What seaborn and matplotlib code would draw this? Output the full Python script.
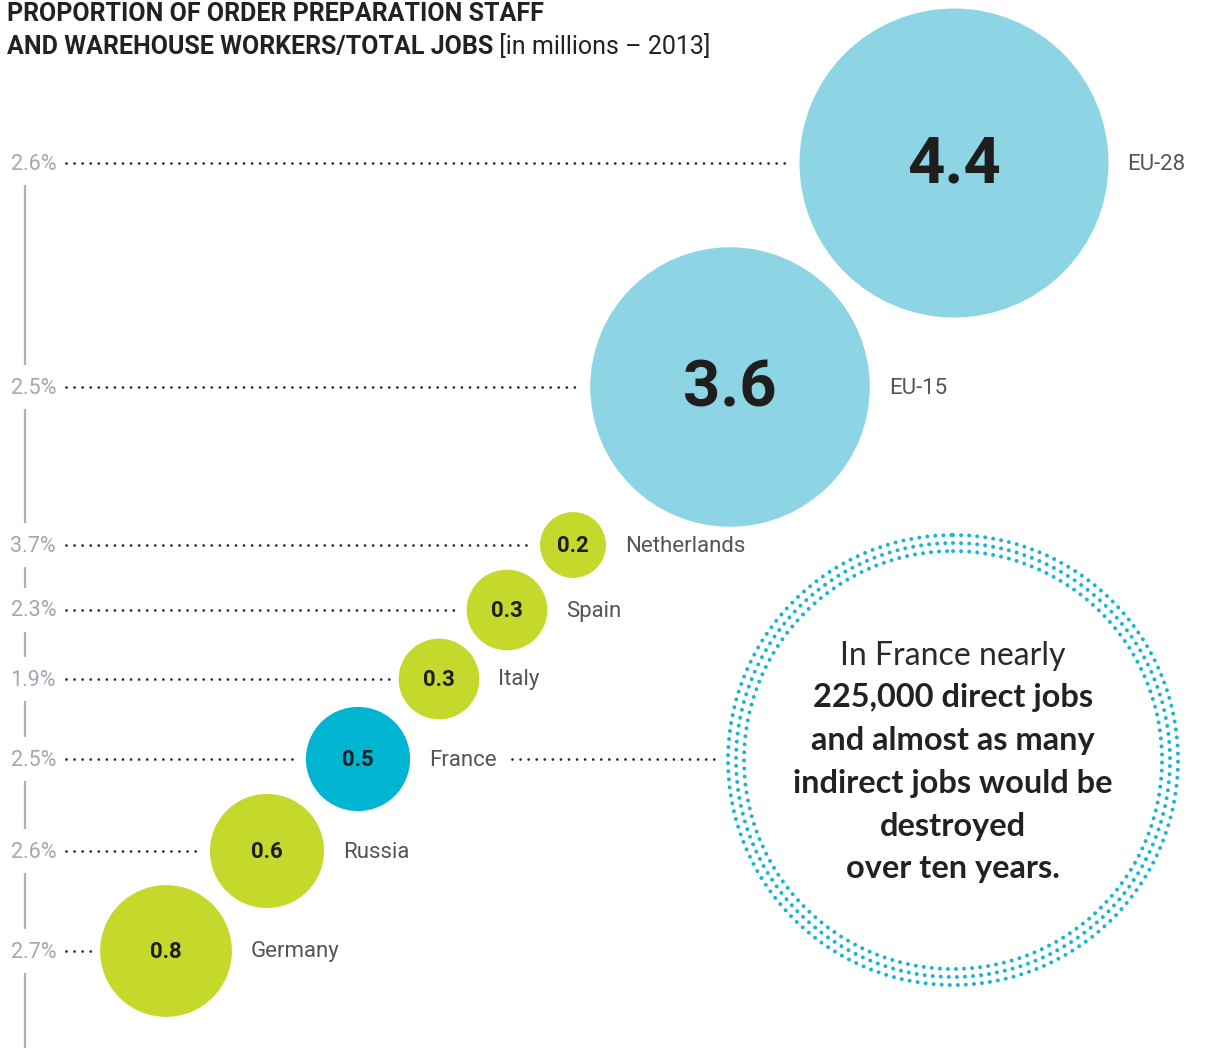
import numpy as np
import pandas as pd
import matplotlib
matplotlib.use("Agg")
import matplotlib.pyplot as plt
from matplotlib.patches import Circle
import seaborn as sns

# ---- data ----
countries = ["EU-28", "EU-15", "Netherlands", "Spain", "Italy", "France", "Russia", "Germany"]
workers_millions = [4.4, 3.6, 0.2, 0.3, 0.3, 0.5, 0.6, 0.8]
value_labels = ["4.4", "3.6", "0.2", "0.3", "0.3", "0.5", "0.6", "0.8"]
share_labels = ["2.6%", "2.5%", "3.7%", "2.3%", "1.9%", "2.5%", "2.6%", "2.7%"]
groups = ["eu", "eu", "country", "country", "country", "france", "country", "country"]

title_bold_1 = "PROPORTION OF ORDER PREPARATION STAFF"
title_bold_2 = "AND WAREHOUSE WORKERS/TOTAL JOBS"
title_light = " [in millions \u2013 2013]"
callout_light = "In France nearly"
callout_bold = ["225,000 direct jobs", "and almost as many",
                "indirect jobs would be", "destroyed", "over ten years."]

# ---- layout (pixel space) ----
W, H = 1207, 1048
DPI = 100
x_centers = [954, 730, 573, 507, 439, 358, 267, 166]
row_y = [163, 387, 545, 610, 679, 759, 851, 951]
max_radius_px = 154.5
palette = {"eu": "#8DD5E4", "country": "#C5D92D", "france": "#00B5D2"}

df = pd.DataFrame({"country": countries, "value": workers_millions,
                   "x": x_centers, "y": row_y, "group": groups})
radii = [max_radius_px * np.sqrt(v / max(workers_millions)) for v in workers_millions]

sns.set_theme(style="white")
plt.rcParams["font.family"] = ["Roboto", "DejaVu Sans"]
plt.rcParams["lines.scale_dashes"] = False

fig = plt.figure(figsize=(W / DPI, H / DPI), dpi=DPI)
ax = fig.add_axes([0, 0, 1, 1])

# bubbles (area proportional to value)
smax = (2 * max_radius_px * 72 / DPI) ** 2
sns.scatterplot(data=df, x="x", y="y", size="value", sizes=(0, smax),
                size_norm=(0, max(workers_millions)), hue="group", palette=palette,
                linewidth=0, legend=False, ax=ax, zorder=3)
ax.set_xlim(0, W)
ax.set_ylim(H, 0)
ax.set_axis_off()

dot_style = (0, (0.01, 5.8))
for i, (c, v, vl, sl) in enumerate(zip(countries, workers_millions, value_labels, share_labels)):
    xc, yc, r = x_centers[i], row_y[i], radii[i]
    # percentage label
    ax.text(56, yc + 1, sl, ha="right", va="center", fontsize=15.5, color="#A0A9B2",
            fontweight="normal")
    # dotted leader
    ax.plot([66, xc - r - 9], [yc, yc], color="#2A2A2A", lw=2.0,
            linestyle=dot_style, dash_capstyle="round", solid_capstyle="round", zorder=2)
    # value inside bubble
    big = v >= 3
    ax.text(xc, yc + (2 if big else 1), vl, ha="center", va="center",
            fontsize=47 if big else 16, fontweight="bold", color="#1E1E1E", zorder=4)
    # country label
    ax.text(xc + r + 19, yc + 1, c, ha="left", va="center", fontsize=16,
            fontweight="normal", color="#555555")
    # vertical axis segment
    end = row_y[i + 1] - 22 if i < len(countries) - 1 else H
    ax.plot([25, 25], [yc + 22, end], color="#A9B3BD", lw=1.6, solid_capstyle="butt")

# France extra leader to callout
fi = countries.index("France")
ax.plot([512, 718], [row_y[fi], row_y[fi]], color="#2A2A2A", lw=2.0,
        linestyle=dot_style, dash_capstyle="round", zorder=2)

# callout ring of dots
ring_c = (953, 760)
for rr in [225, 217, 209]:
    circ = Circle(ring_c, rr, fill=False, edgecolor="#19B6D2", lw=2.9,
                  linestyle=dot_style)
    circ.set_capstyle("round")
    ax.add_patch(circ)

ax.text(ring_c[0], 656, callout_light, ha="center", va="center", fontsize=23,
        fontweight="normal", color="#2A2A2A", family=["Lato", "DejaVu Sans"])
for k, line in enumerate(callout_bold):
    ax.text(ring_c[0], 698 + k * 42.7, line, ha="center", va="center", fontsize=23.4,
            fontweight="bold", color="#222222", family=["Lato", "DejaVu Sans"])

# title
ax.text(7, 14, title_bold_1, ha="left", va="center", fontsize=18, fontweight="bold",
        color="#222222")
t2 = ax.text(7, 47, title_bold_2, ha="left", va="center", fontsize=18, fontweight="bold",
             color="#222222")
fig.canvas.draw()
ax.annotate(title_light, xy=(1, 0.5), xycoords=t2, ha="left", va="center",
            fontsize=18, fontweight="normal", color="#222222")

fig.savefig("out.png", dpi=DPI)
